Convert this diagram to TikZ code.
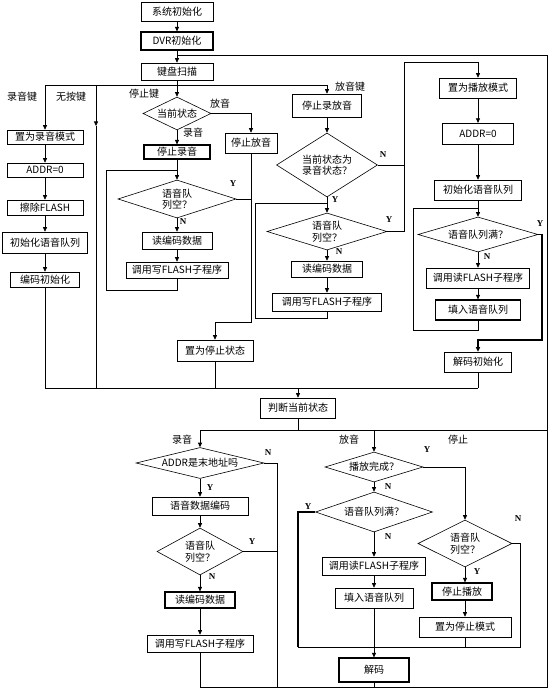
\documentclass[tikz,border=0pt]{standalone}
\usepackage{fontspec}
\setmainfont{Noto Sans CJK SC}
\newfontfamily\lat{Liberation Serif}
\usetikzlibrary{shapes.geometric,arrows.meta}
\tikzset{
  box/.style={draw, rectangle, inner sep=0pt, align=center},
  bbox/.style={box, line width=1.2pt},
  wh/.style 2 args={minimum width=#1pt, minimum height=#2pt},
  dia/.style={draw, diamond, inner sep=0pt},
  txt/.style={inner sep=0pt, align=center},
  yn/.style={inner sep=0pt, font=\lat\bfseries\fontsize{9}{10}\selectfont},
  lab/.style={inner sep=0pt},
  arr/.style={-{Triangle[length=4.5pt,width=4pt]}},
  thk/.style={line width=1.2pt}
}
\begin{document}
\begin{tikzpicture}[x=1pt,y=-1pt,
  line width=0.6pt,
  every node/.style={font=\fontsize{10}{11.5}\selectfont}]
\fill[white] (0,0) rectangle (552,692);
\useasboundingbox (0,0) rectangle (552,692);

% ---- top
\node[box, wh={72}{19}] (s1) at (177,11.5) {系统初始化};
\node[bbox, wh={72}{18}] (s2) at (177,41) {DVR初始化};
\node[box, wh={72}{17}] (s3) at (177,71.5) {键盘扫描};

% ---- record key column
\node[box, wh={76}{14}] (a1) at (45,137) {置为录音模式};
\node[box, wh={76}{14}] (a2) at (45,170) {ADDR=0};
\node[box, wh={76}{15}] (a3) at (45,207.5) {擦除FLASH};
\node[box, wh={85}{21}] (a4) at (45,242.5) {初始化语音队列};
\node[box, wh={69}{15}] (a5) at (45,279.5) {编码初始化};

% ---- stop key column
\node[dia, wh={68}{33}] (d1) at (177,113.5) {};
\node[txt] (d1t) at (d1) {当前状态};
\node[bbox, wh={66}{14}] (b1) at (177,152) {停止录音};
\node[dia, wh={118}{38}] (d2) at (177,199) {};
\node[txt] (d2t) at (d2) {语音队\\列空？};
\node[box, wh={70}{17}] (b2) at (177,240.5) {读编码数据};
\node[box, wh={102}{16}] (b3) at (177,270) {调用写FLASH子程序};
\node[box, wh={52}{20}] (b0) at (251,143) {停止放音};
\node[box, wh={76}{21}] (b4) at (215,350.5) {置为停止状态};

% ---- play key column
\node[box, wh={69}{23}] (c1) at (327,105.5) {停止录放音};
\node[dia, wh={101}{64}] (d3) at (327,165) {};
\node[txt] (d3t) at (d3) {当前状态为\\录音状态？};
\node[dia, wh={120}{37}] (d4) at (327,231.5) {};
\node[txt] (d4t) at (d4) {语音队\\列空？};
\node[box, wh={71}{16}] (c2) at (327,269) {读编码数据};
\node[box, wh={109}{18}] (c3) at (327,302) {调用写FLASH子程序};

% ---- playback mode column
\node[box, wh={77}{20}] (f1) at (478,88) {置为播放模式};
\node[bbox, wh={71}{21}] (f2) at (478,134) {ADDR=0};
\node[box, wh={87}{20}] (f3) at (478,190) {初始化语音队列};
\node[dia, wh={120}{35}] (d5) at (478,234.5) {};
\node[txt] (d5t) at (d5) {语音队列满？};
\node[box, wh={103}{20}] (f4) at (478,278) {调用读FLASH子程序};
\node[bbox, wh={85}{20}] (f5) at (478,310) {填入语音队列};
\node[box, wh={67}{20}] (f6) at (478,362) {解码初始化};

\node[box, wh={75}{20}] (j) at (298,408) {判断当前状态};

% ---- lower record branch
\node[dia, wh={128}{31}] (e1) at (200,463) {};
\node[txt] (e1t) at (e1) {ADDR是末地址吗};
\node[box, wh={96}{18}] (e2) at (200,506) {语音数据编码};
\node[dia, wh={86}{47}] (e3) at (200,551.5) {};
\node[txt] (e3t) at (e3) {语音队\\列空？};
\node[bbox, wh={70}{16}] (e4) at (200,600) {读编码数据};
\node[box, wh={106}{17}] (e5) at (200,643.5) {调用写FLASH子程序};

% ---- lower play branch
\node[dia, wh={98}{30}] (g1) at (374,467) {};
\node[txt] (g1t) at (g1) {播放完成？};
\node[dia, wh={117}{40}] (g2) at (374,512) {};
\node[txt] (g2t) at (g2) {语音队列满？};
\node[box, wh={103}{18}] (g3) at (374,566) {调用读FLASH子程序};
\node[box, wh={78}{20}] (g4) at (374,598) {填入语音队列};
\node[bbox, wh={70}{24}] (g5) at (374,670) {解码};
\node[dia, wh={94}{47}] (h1) at (465,543.5) {};
\node[txt] (h1t) at (h1) {语音队\\列空？};
\node[bbox, wh={60}{17}] (h2) at (462,591.5) {停止播放};
\node[box, wh={92}{20}] (h3) at (465,627) {置为停止模式};

% ---- labels
\node[lab] (l1) at (22,97) {录音键};
\node[lab] (l2) at (71,97) {无按键};
\node[lab] (l3) at (144,94) {停止键};
\node[lab] (l4) at (220,104) {放音};
\node[lab] (l5) at (193,133) {录音};
\node[lab] (l6) at (350,87) {放音键};
\node[lab] (l7) at (182,440) {录音};
\node[lab] (l8) at (349,440) {放音};
\node[lab] (l9) at (458,440) {停止};

\node[yn] (y1) at (233,184) {Y};
\node[yn] (n1) at (183,222) {N};
\node[yn] (n2) at (383,155) {N};
\node[yn] (y2) at (335,200) {Y};
\node[yn] (y3) at (389,220) {Y};
\node[yn] (n3) at (339,252) {N};
\node[yn] (y4) at (540,224) {Y};
\node[yn] (n4) at (487,257) {N};
\node[yn] (n5) at (268,453) {N};
\node[yn] (y5) at (210,488) {Y};
\node[yn] (y6) at (252,542) {Y};
\node[yn] (n6) at (212,577) {N};
\node[yn] (y7) at (427,450) {Y};
\node[yn] (n7) at (388,487) {N};
\node[yn] (y8) at (308,507) {Y};
\node[yn] (n8) at (388,537) {N};
\node[yn] (n9) at (518,519) {N};
\node[yn] (y9) at (477,572) {Y};

% ---- coordinates
\coordinate (busTopL) at (45,85);
\coordinate (busTopR) at (327,85);
\coordinate (colB) at (96,85);
\coordinate (colBm) at (96,126);
\coordinate (busMidL) at (45,388);
\coordinate (busMidR) at (478,388);
\coordinate (colBb) at (96,388);
\coordinate (busLowL) at (200,430);
\coordinate (busLowR) at (547,430);
\coordinate (edgeTR) at (547,55);
\coordinate (edgeBR) at (547,687);
\coordinate (busBotL) at (200,687);

% ---- top connectors
\draw[arr] (s1) -- (s2);
\draw[arr] (s2) -- (s3);
\draw[arr] (s3.south) -- (d1.north);
\draw (busTopL) -- (busTopR);
\draw[arr] (busTopL) -- (a1.north);
\draw[arr] (colB) -- (colBm);
\draw (colBm) -- (colBb);
\draw[arr] (busTopR) -- (c1.north);

% record key column
\draw[arr] (a1) -- (a2);
\draw[arr] (a2) -- (a3);
\draw[arr] (a3) -- (a4);
\draw[arr] (a4) -- (a5);
\draw (a5.south) -- (busMidL);
\draw (busMidL) -- (busMidR);

% stop key column
\draw[arr] (d1.south) -- (b1.north);
\draw[arr] (d1.east) -| (b0.north);
\draw[arr] (b1.south) -- (d2.north);
\draw[arr] (d2.south) -- (b2.north);
\draw[arr] (b2) -- (b3);
\draw (b3.south) |- (106,290) |- (b1.south |- 0,170);
\draw (d2.east) -- (d2.east -| b0.south);
\draw[arr] (b0.south) -- (b0.south |- 0,322) -| (b4.north);
\draw (b4.south) -- (b4.south |- busMidL);

% play key column
\draw[arr] (c1) -- (d3);
\draw[arr] (d3.south) -- (d4.north);
\draw[arr] (d4.south) -- (c2.north);
\draw[arr] (c2) -- (c3);
\draw (c3.south) |- (255,318) |- (c2.north |- 0,203);
\draw (d3.east) -- (404,165);
\draw[arr] (d4.east) -| (404,62) -| (f1.north);

% playback column
\draw[arr] (f1) -- (f2);
\draw[arr] (f2) -- (f3);
\draw[arr] (f3.south) -- (d5.north);
\draw[arr] (d5.south) -- (f4.north);
\draw[arr] (f4) -- (f5);
\draw (f5.south) |- (413,330) |- (f5.south |- 0,208);
\draw[arr, thk] (d5.east) -| (542,340) -| (f6.north);
\draw (f6.south) -- (busMidR);

% judge
\draw[arr] (j.north |- busMidL) -- (j.north);
\draw (j.south) -- (j.south |- busLowL);
\draw (busLowL) -- (busLowR);
\draw (busBotL) -- (edgeBR) -- (edgeTR) -- (s2.south |- edgeTR);

% lower record
\draw[arr] (busLowL) -- (e1.north);
\draw[arr] (e1.south) -- (e2.north);
\draw[arr] (e2.south) -- (e3.north);
\draw[arr] (e3.south) -- (e4.north);
\draw[arr] (e4.south) -- (e5.north);
\draw (e5.south) -- (busBotL);
\draw (e1.east) -| (277,687);
\draw (e3.east) -- (e3.east -| 277,0);

% lower play
\draw[arr] (g1.north |- busLowL) -- (g1.north);
\draw[arr] (g1.south) -- (g2.north);
\draw[arr] (g2.south) -- (g3.north);
\draw[arr] (g3.south) -- (g4.north);
\draw[arr] (g4.south) -- (g5.north);
\draw (g5.south) -- (g5.south |- busBotL);
\draw[arr] (g1.east) -| (h1.north);
\draw[arr] (h1.south) -- (h1.south |- h2.north);
\draw[arr] (h1.south |- h2.south) -- (h1.south |- h3.north);
\draw (h3.south) -- (h3.south |- 0,647);
\draw (h1.east) -| (520,647) -- (298,647);
\draw[thk] (g2.west) -| (298,647);
\end{tikzpicture}
\end{document}
